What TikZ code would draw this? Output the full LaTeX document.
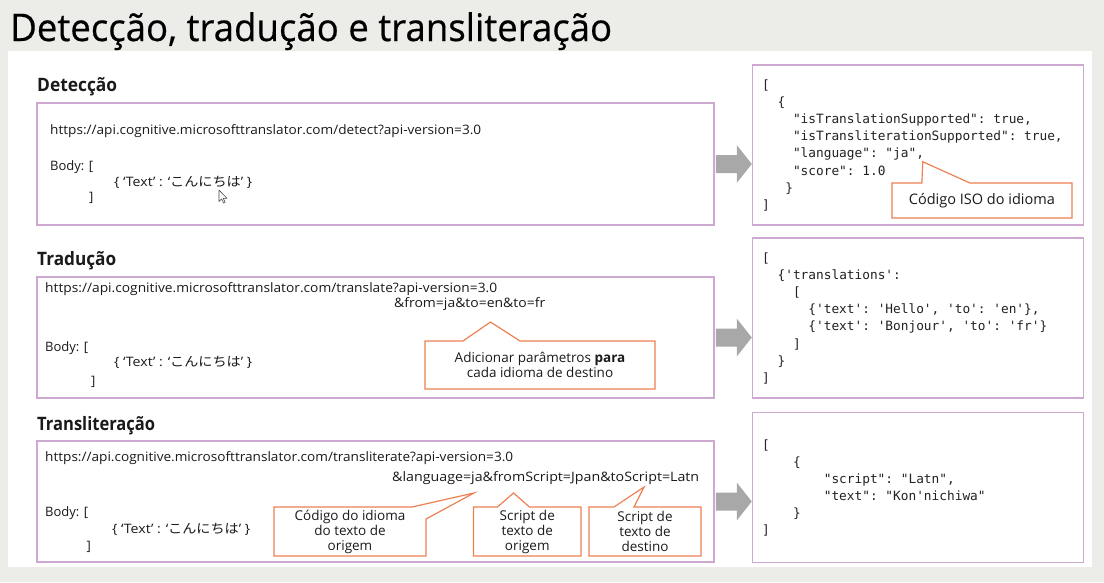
\documentclass[tikz,border=0pt]{standalone}
\usepackage{fontspec}
\usepackage{graphicx}
\setmainfont{Open Sans}
\setmonofont{DejaVu Sans Mono}
\newfontfamily\jpfont{Noto Sans CJK JP}
\newfontfamily\headfont[FakeBold=0.5]{Open Sans}
\usetikzlibrary{calc}

\pgfdeclarelayer{paper}
\pgfdeclarelayer{bubbles}
\pgfsetlayers{paper,bubbles,main}

\definecolor{bandgray}{HTML}{ECECE8}
\definecolor{boxline}{HTML}{CDA8D1}
\definecolor{calloutline}{HTML}{EE8152}
\definecolor{arrowgray}{HTML}{A8A8A8}
\definecolor{ink}{HTML}{1A1A1A}
\definecolor{codeink}{HTML}{222222}

% squeeze or stretch a line horizontally to a given width, height unchanged
\newcommand\fitw[2]{\resizebox{#1}{\height}{#2}}

% grey block arrow from a request box to its response box
\newcommand\flowarrow[2]{%
  \fill[arrowgray]
    ($(#1.east)+(1,-9)$) -- ($(#2.west |- #1.east)+(-15,-9)$)
    -- ($(#2.west |- #1.east)+(-15,-19)$) -- (#2.west |- #1.east)
    -- ($(#2.west |- #1.east)+(-15,19)$) -- ($(#2.west |- #1.east)+(-15,9)$)
    -- ($(#1.east)+(1,9)$) -- cycle;}

\tikzset{
  panelbox/.style 2 args={draw=boxline, line width=1.5pt, inner sep=0pt,
    minimum width=#1, minimum height=#2},
  reqtext/.style={anchor=base west, inner sep=0pt, text=ink,
    font=\fontsize{13}{15}\selectfont},
  codeline/.style={anchor=base west, inner sep=0pt, text=codeink,
    font=\ttfamily\fontsize{12.8}{15}\selectfont},
  sectionlabel/.style={anchor=base west, inner sep=0pt, text=ink,
    font=\bfseries\fontsize{18.5}{22}\selectfont},
  bubble/.style 2 args={inner sep=0pt, outer sep=0pt, minimum width=#1,
    minimum height=#2, align=center, text=ink,
    font=\fontsize{13.5}{15}\selectfont},
  bubbleline/.style={draw=calloutline, fill=white, line width=1.2pt,
    line join=miter},
}

\begin{document}
\begin{tikzpicture}[x=1pt, y=-1pt]
\useasboundingbox (0,0) rectangle (1104,582);

% slide background
\begin{pgfonlayer}{paper}
  \fill[bandgray] (0,0) rectangle (1104,582);
  \fill[white] (8,51) rectangle (1092,567);
\end{pgfonlayer}

% heading
\node[anchor=base west, inner sep=0pt, text=black,
      font=\headfont\fontsize{38}{44}\selectfont] (title) at (10,41)
  {\fitw{602pt}{Detecção, tradução e transliteração}};

% section labels
\node[sectionlabel] (lbl1) at (37,91.7) {\fitw{80pt}{Detecção}};
\node[sectionlabel] (lbl2) at (37,265) {\fitw{79pt}{Tradução}};
\node[sectionlabel] (lbl3) at (37,430) {\fitw{118pt}{Transliteração}};

% request boxes
\node[panelbox={677pt}{122pt}] (req1) at (375.5,164) {};
\node[panelbox={677pt}{121pt}] (req2) at (375.5,337.5) {};
\node[panelbox={677pt}{121pt}] (req3) at (375.5,501.5) {};

% response boxes
\node[panelbox={331pt}{160pt}] (resp1) at (918,145) {};
\node[panelbox={331pt}{160pt}] (resp2) at (918,318) {};
\node[panelbox={331pt}{150pt}] (resp3) at (918,487.7) {};

% arrows
\flowarrow{req1}{resp1}
\flowarrow{req2}{resp2}
\flowarrow{req3}{resp3}

% --- detect request
\node[reqtext] (u1) at (50,134.5)
  {\fitw{431pt}{https://api.cognitive.microsofttranslator.com/detect?api-version=3.0}};
\node[reqtext] (b1) at (50,170) {Body: [};
\node[reqtext] (t1) at (114,186.5)
  {\fitw{138pt}{\{ `Text' : `{\jpfont こんにちは}' \}}};
\node[reqtext] (e1) at (89,201.6) {]};
% mouse pointer
\draw[gray!60!black, fill=white, line width=0.6pt, line join=round]
  (219,190) -- ++(0,11.5) -- ++(2.6,-2.6) -- ++(2,4.2) -- ++(1.6,-0.8)
  -- ++(-2,-4) -- ++(3.7,0) -- cycle;

% --- translate request
\node[reqtext] (u2) at (45,292.8)
  {\fitw{452pt}{https://api.cognitive.microsofttranslator.com/translate?api-version=3.0}};
\node[reqtext] (q2) at (394,307.5) {\fitw{151pt}{\&from=ja\&to=en\&to=fr}};
\node[reqtext] (b2) at (45,351) {Body: [};
\node[reqtext] (t2) at (114,366.7)
  {\fitw{138pt}{\{ `Text' : `{\jpfont こんにちは}' \}}};
\node[reqtext] (e2) at (91,385.3) {]};

% --- transliterate request
\node[reqtext] (u3) at (45,461.5)
  {\fitw{468pt}{https://api.cognitive.microsofttranslator.com/transliterate?api-version=3.0}};
\node[reqtext] (q3) at (392,481.5)
  {\fitw{307pt}{\&language=ja\&fromScript=Jpan\&toScript=Latn}};
\node[reqtext] (b3) at (45,516) {Body: [};
\node[reqtext] (t3) at (112,533.3)
  {\fitw{138pt}{\{ `Text' : `{\jpfont こんにちは}' \}}};
\node[reqtext] (e3) at (86.5,550.3) {]};

% --- responses
\foreach \c/\t [count=\i] in {{0/[}, {2/\{}, {4/"isTranslationSupported": true,},
    {4/"isTransliterationSupported": true,}, {4/"language": "ja",},
    {4/"score": 1.0}, {3/\}}, {0/]}}
  \node[codeline] (ra-\i) at ({762+\c*7.7},{89+(\i-1)*17.2}) {\t};

\foreach \c/\t [count=\i] in {{0/[}, {2/\{'translations':}, {4/[},
    {6/\{'text': 'Hello', 'to': 'en'\},}, {6/\{'text': 'Bonjour', 'to': 'fr'\}},
    {4/]}, {2/\}}, {0/]}}
  \node[codeline] (rb-\i) at ({762+\c*7.7},{262+(\i-1)*17.2}) {\t};

\foreach \c/\t [count=\i] in {{0/[}, {4/\{}, {8/"script": "Latn",},
    {8/"text": "Kon'nichiwa"}, {4/\}}, {0/]}}
  \node[codeline] (rc-\i) at ({762+\c*7.7},{449+(\i-1)*17}) {\t};

% --- callouts
\node[bubble={180pt}{35pt}, font=\fontsize{14.5}{16}\selectfont] (iso) at (981.9,200.5)
  {Código ISO do idioma};
\coordinate (isotip) at (922.7,161.7);

\node[bubble={230pt}{48pt}] (para) at (540,365)
  {Adicionar parâmetros \textbf{para}\\cada idioma de destino};
\coordinate (paratip) at (490.5,322);

\node[bubble={152pt}{49pt}] (lang) at (350,531.5)
  {Código do idioma\\do texto de\\origem};
\coordinate (langtip) at (474,493);

\node[bubble={107.5pt}{49pt}] (srcscr) at (527.25,531.5)
  {Script de\\texto de\\origem};
\coordinate (srctip) at (513.5,493);

\node[bubble={112pt}{49pt}] (dstscr) at (645,531.5)
  {Script de\\texto de\\destino};
\coordinate (dsttip) at (644,487);

\begin{pgfonlayer}{bubbles}
  \draw[bubbleline] (iso.north west) -- ($(iso.north west)+(30,0)$) -- (isotip)
    -- ($(iso.north west)+(78,0)$) -- (iso.north east) -- (iso.south east)
    -- (iso.south west) -- cycle;
  \draw[bubbleline] (para.north west) -- ($(para.north west)+(38,0)$) -- (paratip)
    -- ($(para.north west)+(95,0)$) -- (para.north east) -- (para.south east)
    -- (para.south west) -- cycle;
  \draw[bubbleline] (lang.north west) -- ($(lang.north east)+(-14,0)$) -- (langtip)
    -- ($(lang.north east)+(0,12)$) -- (lang.south east)
    -- (lang.south west) -- cycle;
  \draw[bubbleline] (srcscr.north west) -- ($(srcscr.north west)+(24,0)$) -- (srctip)
    -- ($(srcscr.north west)+(56,0)$) -- (srcscr.north east) -- (srcscr.south east)
    -- (srcscr.south west) -- cycle;
  \draw[bubbleline] (dstscr.north west) -- ($(dstscr.north west)+(25,0)$) -- (dsttip)
    -- ($(dstscr.north west)+(45,0)$) -- (dstscr.north east) -- (dstscr.south east)
    -- (dstscr.south west) -- cycle;
\end{pgfonlayer}
\end{tikzpicture}
\end{document}
